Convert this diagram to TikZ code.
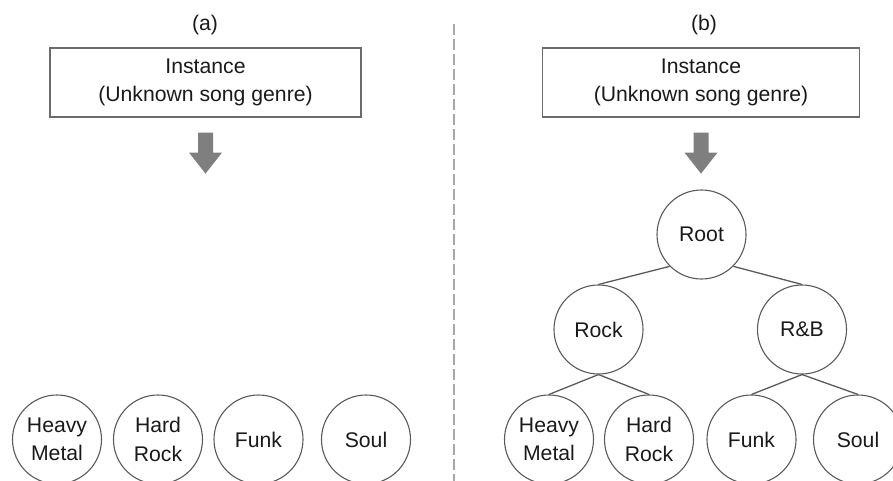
\documentclass[tikz,border=0pt]{standalone}
\usepackage{fontspec}
\setmainfont{Liberation Sans}
\definecolor{boxline}{HTML}{6B6B6B}
\definecolor{circline}{HTML}{5A5A5A}
\definecolor{arrowfill}{HTML}{7F7F7F}
\definecolor{dashcol}{HTML}{A8A8A8}
\definecolor{txt}{HTML}{1A1A1A}
\begin{document}
\begin{tikzpicture}[x=1pt,y=-1pt,
  every node/.style={font=\fontsize{21.2}{28.5}\selectfont, text=txt, inner sep=0pt},
  lbl/.style={},
  inbox/.style={draw=boxline, line width=1.2pt, minimum height=69pt, align=center},
  genre/.style={circle, draw=circline, line width=1.1pt, minimum size=89pt, align=center},
  edge/.style={draw=circline, line width=1.3pt},
  blockarrow/.style={fill=arrowfill},
  divider/.style={draw=dashcol, line width=1.7pt, dash pattern=on 11pt off 4pt}
]
\useasboundingbox (0,0) rectangle (893,481);
\clip (0,0) rectangle (893,481);

% labels
\node[lbl] (la) at (205,25) {(a)};
\node[lbl] (lb) at (704,25) {(b)};

% instance boxes
\node[inbox, minimum width=311pt] (ia) at (205.5,82.5) {Instance\\(Unknown song genre)};
\node[inbox, minimum width=317pt] (ib) at (701,82.5) {Instance\\(Unknown song genre)};

% block arrows
\foreach \b in {ia,ib}{
  \fill[blockarrow, shift={(\b.south)}]
    (-7.5,15) -- (7.5,15) -- (7.5,35) -- (16.5,35) -- (0,56) -- (-16.5,35) -- (-7.5,35) -- cycle;
}

% divider
\coordinate (dtop) at (454,24);
\coordinate (dbot) at (454,481);
\draw[divider] (dtop) -- (dbot);

% (a) flat classes
\node[genre] (hma) at (57,439.5) {Heavy\\Metal};
\node[genre] (hra) at (158,439.5) {Hard\\Rock};
\node[genre] (fua) at (258.5,439.5) {Funk};
\node[genre] (soa) at (366,439.5) {Soul};

% (b) hierarchy
\node[genre] (root) at (701.5,234.5) {Root};
\node[genre] (rock) at (598.5,329.5) {Rock};
\node[genre] (rb) at (802,329.5) {R\&B};
\node[genre] (hmb) at (549,439.5) {Heavy\\Metal};
\node[genre] (hrb) at (649,439.5) {Hard\\Rock};
\node[genre] (fub) at (751.5,439.5) {Funk};
\node[genre] (sob) at (858,439.5) {Soul};

\draw[edge] (root.south west) -- (rock.north);
\draw[edge] (root.south east) -- (rb.north);
\draw[edge] (rock.south) -- (hmb.north);
\draw[edge] (rock.south) -- (hrb.north);
\draw[edge] (rb.south) -- (fub.north);
\draw[edge] (rb.south) -- (sob.north);
\end{tikzpicture}
\end{document}
